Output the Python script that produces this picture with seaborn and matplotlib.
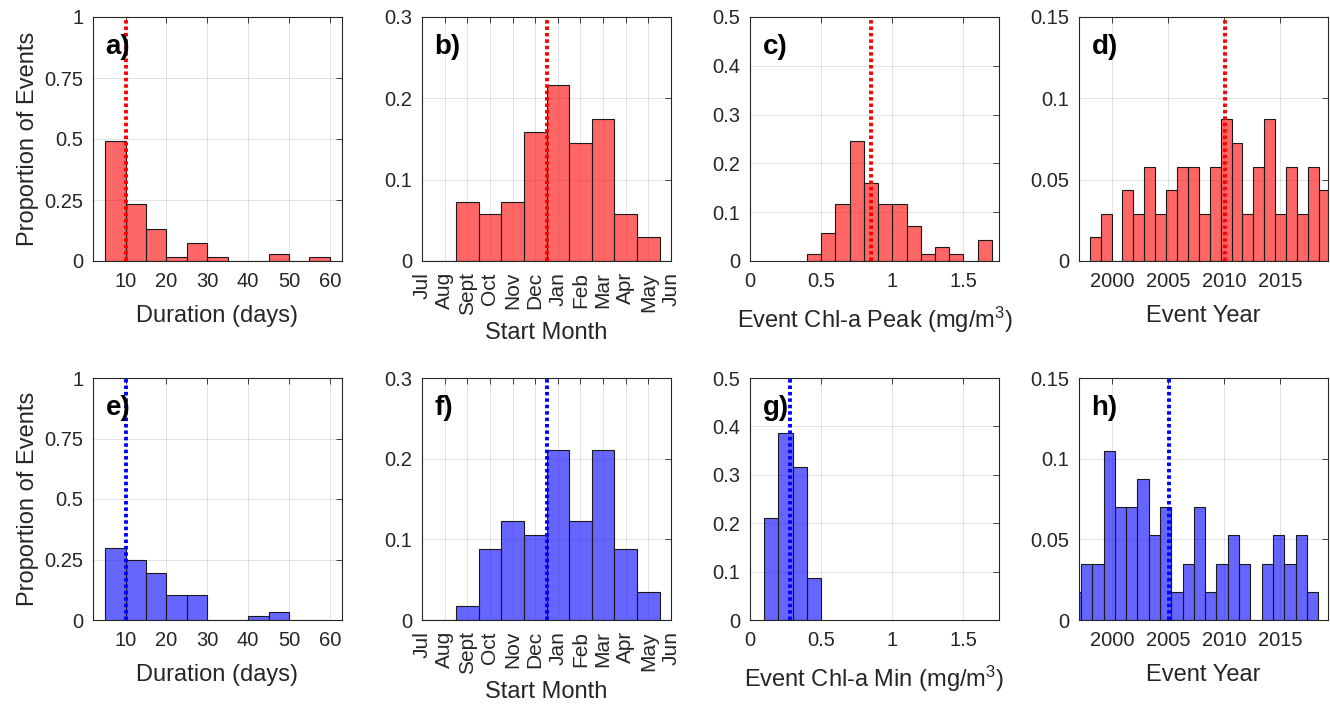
import numpy as np
import pandas as pd
import matplotlib
matplotlib.use("Agg")
import matplotlib.pyplot as plt
import seaborn as sns
from matplotlib.ticker import FuncFormatter

# ---------------- data (proportion of events per bin) ----------------
# Duration (days): bins of 5 days from 5 to 60
dur_bin_start, dur_bin_width = 5, 5
dur_peak = [0.493, 0.232, 0.130, 0.0145, 0.0725, 0.0145, 0, 0, 0.029, 0, 0.0145]
dur_min = [0.298, 0.246, 0.193, 0.105, 0.105, 0, 0, 0.0175, 0.035, 0, 0]

# Start month (Jul .. Jun)
months = ["Jul", "Aug", "Sept", "Oct", "Nov", "Dec", "Jan", "Feb", "Mar", "Apr", "May", "Jun"]
month_peak = [0, 0, 0.0725, 0.058, 0.0725, 0.159, 0.217, 0.145, 0.174, 0.058, 0.029, 0]
month_min = [0, 0, 0.0175, 0.0877, 0.123, 0.105, 0.2105, 0.123, 0.2105, 0.0877, 0.035, 0]

# Event Chl-a peak (mg/m3): bins of 0.1 from 0.4 to 1.7
chl_peak_start, chl_peak_width = 0.4, 0.1
chl_peak = [0.0145, 0.058, 0.116, 0.246, 0.159, 0.116, 0.116, 0.0725, 0.0145, 0.029, 0.0145, 0, 0.0435]
# Event Chl-a min (mg/m3): bins of 0.1 from 0.1 to 0.5
chl_min_start, chl_min_width = 0.1, 0.1
chl_min = [0.2105, 0.386, 0.316, 0.0877]

# Event year
year_peak_start, year_peak_width = 1997.96, 0.977
year_peak = [0.0145, 0.029, 0, 0.0435, 0.029, 0.058, 0.029, 0.0435, 0.058, 0.058, 0.029,
             0.058, 0.087, 0.0725, 0.029, 0.058, 0.087, 0.029, 0.058, 0.029, 0.058, 0.0435]
year_min_start, year_min_width = 1996.17, 1.011
year_min = [0.0175, 0.035, 0.035, 0.105, 0.070, 0.070, 0.0877, 0.0526, 0.070, 0.0175, 0.035,
            0.070, 0.0175, 0.035, 0.0526, 0.035, 0, 0.035, 0.0526, 0.035, 0.0526, 0.0175]

# medians (dotted lines)
medians_peak = [10, 5.5, 0.85, 2010.1]
medians_min = [10, 5.5, 0.28, 2005.05]

# ---------------- style ----------------
sns.set_theme(style="white")
plt.rcParams["font.family"] = ["Liberation Sans", "DejaVu Sans"]
plt.rcParams["mathtext.fontset"] = "custom"
plt.rcParams["mathtext.rm"] = "Liberation Sans"
plt.rcParams["mathtext.it"] = "Liberation Sans:italic"
plt.rcParams["mathtext.bf"] = "Liberation Sans:bold"

DARK = "#262626"
fig = plt.figure(figsize=(13.3, 7.07), dpi=100)

W, H = 1330, 707
lefts = [93, 422, 750, 1079]
width = 249
rows = [(17, 261), (378, 620)]


def make_ax(col, row):
    top, bottom = rows[row]
    return fig.add_axes([lefts[col] / W, (H - bottom) / H, width / W, (bottom - top) / H])


fmt = FuncFormatter(lambda v, p: f"{v:g}")


def panel(ax, start, bw, props, color, lcolor, median, xlim, xticks, ylim, yticks,
          letter, xlabel, ylabel=None, xticklabels=None, rot=0, xlabelpad=10):
    edges = start + bw * np.arange(len(props) + 1)
    centers = (edges[:-1] + edges[1:]) / 2
    df = pd.DataFrame({"x": centers, "w": props})
    sns.histplot(data=df, x="x", weights="w", bins=[float(e) for e in edges], ax=ax,
                 color=color, alpha=0.6, edgecolor="#1a1a1a", linewidth=0.8)
    ax.axvline(median, color=lcolor, lw=2.8, ls=(0, (0.9, 0.75)), zorder=5)
    ax.set_xlim(*xlim)
    ax.set_ylim(*ylim)
    ax.set_xticks(xticks)
    ax.set_yticks(yticks)
    ax.yaxis.set_major_formatter(fmt)
    ax.grid(True, color=DARK, alpha=0.15, lw=0.6)
    ax.set_axisbelow(True)
    for s in ax.spines.values():
        s.set_color(DARK)
        s.set_linewidth(0.8)
        s.set_visible(True)
    ax.tick_params(direction="in", top=True, right=True, length=4, width=0.6,
                   colors=DARK, labelsize=14.5)
    ax.tick_params(axis="x", pad=8)
    ax.tick_params(axis="y", pad=7)
    if xticklabels is not None:
        ax.set_xticklabels(xticklabels, rotation=rot, fontsize=15)
    else:
        ax.xaxis.set_major_formatter(fmt)
    ax.set_xlabel(xlabel, fontsize=17, color=DARK, labelpad=xlabelpad)
    ax.set_ylabel(ylabel if ylabel else "", fontsize=17, color=DARK, labelpad=4)
    ax.text(0.05, 0.875, letter, transform=ax.transAxes, fontsize=20, fontweight="bold",
            va="center", ha="left", color="black", zorder=10)


RED = (1, 0, 0)
BLUE = (0, 0, 1)

configs = [
    (RED, dur_peak, month_peak, chl_peak, chl_peak_start, chl_peak_width,
     year_peak, year_peak_start, year_peak_width, medians_peak, "abcd",
     "Event Chl-a Peak (mg/m$^3$)"),
    (BLUE, dur_min, month_min, chl_min, chl_min_start, chl_min_width,
     year_min, year_min_start, year_min_width, medians_min, "efgh",
     "Event Chl-a Min (mg/m$^3$)"),
]

for row, (col, dur, mon, chl, chl_s, chl_w, yr, yr_s, yr_w, med, letters, chl_lab) in enumerate(configs):
    ax = make_ax(0, row)
    panel(ax, dur_bin_start, dur_bin_width, dur, col, col, med[0],
          (2, 63), [10, 20, 30, 40, 50, 60], (0, 1), [0, 0.25, 0.5, 0.75, 1],
          letters[0] + ")", "Duration (days)", ylabel="Proportion of Events")

    ax = make_ax(1, row)
    panel(ax, -0.5, 1, mon, col, col, med[1],
          (0, 11), list(range(12)), (0, 0.3), [0, 0.1, 0.2, 0.3],
          letters[1] + ")", "Start Month", xticklabels=months, rot=90, xlabelpad=5)

    ax = make_ax(2, row)
    panel(ax, chl_s, chl_w, chl, col, col, med[2],
          (0, 1.75), [0, 0.5, 1, 1.5], (0, 0.5), [0, 0.1, 0.2, 0.3, 0.4, 0.5],
          letters[2] + ")", chl_lab)

    ax = make_ax(3, row)
    panel(ax, yr_s, yr_w, yr, col, col, med[3],
          (1997, 2019.3), [2000, 2005, 2010, 2015], (0, 0.15), [0, 0.05, 0.1, 0.15],
          letters[3] + ")", "Event Year")

fig.savefig("out.png", dpi=100)
